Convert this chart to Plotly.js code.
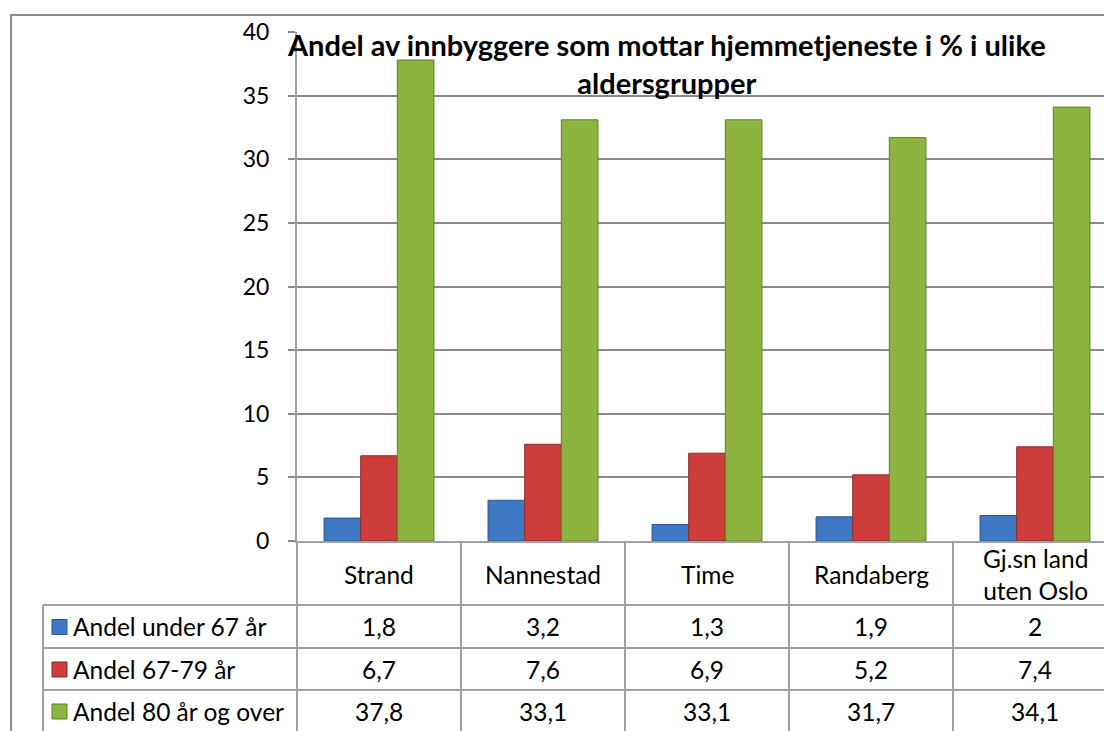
<!DOCTYPE html>
<html>
<head>
<meta charset="utf-8">
<script src="https://cdn.plot.ly/plotly-3.0.1.min.js"></script>
<style>
  body { margin: 0; overflow: hidden; background: #fff; }
  #chart { width: 1130px; height: 745px; }
</style>
</head>
<body>
<div id="chart"></div>
<script>
// data
const categories = ['Strand', 'Nannestad', 'Time', 'Randaberg', 'Gj.sn land<br>uten Oslo'];
const seriesNames = ['Andel under 67 år', 'Andel 67-79 år', 'Andel 80 år og over'];
const under67 = [1.8, 3.2, 1.3, 1.9, 2];
const age67to79 = [6.7, 7.6, 6.9, 5.2, 7.4];
const over80 = [37.8, 33.1, 33.1, 31.7, 34.1];
const tableLabels = [
    ['1,8', '3,2', '1,3', '1,9', '2'],
    ['6,7', '7,6', '6,9', '5,2', '7,4'],
    ['37,8', '33,1', '33,1', '31,7', '34,1']
];

const colors = ['#3f78c4', '#cc3d3b', '#8cb43e'];
const edges = ['#2a5590', '#8e2a28', '#5f7f28'];
const fontFam = 'Lato, "Open Sans", sans-serif';
const gridCol = '#8a8a8a';
const tableCol = '#a0a0a0';
const txtSize = 24.5;

// pixel helpers (plot area 297..1117 x, 32..541 y)
const W = 1130, H = 745;
const L = 297, R = 1117, T = 32, B = 541;
const px = v => (v - L) / (R - L);
const py = v => (B - v) / (B - T);

const xIdx = categories.map((c, i) => i);
const values = [under67, age67to79, over80];

const traces = values.map((vals, s) => ({
    type: 'bar',
    x: xIdx,
    y: vals,
    name: seriesNames[s],
    marker: { color: colors[s], line: { color: edges[s], width: 1 } },
    hoverinfo: 'y'
}));

const shapes = [];
const annotations = [];

// outer chart border
shapes.push({ type: 'rect', xref: 'paper', yref: 'paper',
    x0: px(11), x1: px(1200), y0: py(15), y1: py(800),
    line: { color: '#8a8a8a', width: 2 }, layer: 'below' });

// table grid
const rowLines = [605, 648, 690];
rowLines.forEach(y => shapes.push({ type: 'line', xref: 'paper', yref: 'paper',
    x0: px(43), x1: 1, y0: py(y), y1: py(y), line: { color: tableCol, width: 2 } }));
shapes.push({ type: 'line', xref: 'paper', yref: 'paper',
    x0: px(43), x1: px(43), y0: py(605), y1: py(800), line: { color: tableCol, width: 2 } });
shapes.push({ type: 'line', xref: 'paper', yref: 'paper',
    x0: 0, x1: 0, y0: py(541), y1: py(800), line: { color: tableCol, width: 2 } });
for (let i = 1; i < categories.length; i++) {
    shapes.push({ type: 'line', xref: 'paper', yref: 'paper',
        x0: i / categories.length, x1: i / categories.length, y0: 0, y1: py(800),
        line: { color: tableCol, width: 2 } });
}

// category header labels
categories.forEach((c, i) => annotations.push({
    xref: 'paper', yref: 'paper', x: (i + 0.5) / categories.length, y: py(574),
    text: c, showarrow: false, xanchor: 'center', yanchor: 'middle',
    font: { family: fontFam, size: txtSize, color: '#000' }
}));

// table rows
const rowCenters = [626.5, 669, 711];
seriesNames.forEach((name, s) => {
    const cy = rowCenters[s];
    shapes.push({ type: 'rect', xref: 'paper', yref: 'paper',
        x0: px(52), x1: px(67), y0: py(cy - 7), y1: py(cy + 8),
        fillcolor: colors[s], line: { color: edges[s], width: 1 } });
    annotations.push({ xref: 'paper', yref: 'paper', x: px(71), y: py(cy),
        text: name, showarrow: false, xanchor: 'left', yanchor: 'middle',
        font: { family: fontFam, size: txtSize, color: '#000' } });
    tableLabels[s].forEach((t, i) => annotations.push({
        xref: 'paper', yref: 'paper', x: (i + 0.5) / categories.length, y: py(cy),
        text: t, showarrow: false, xanchor: 'center', yanchor: 'middle',
        font: { family: fontFam, size: txtSize, color: '#000' }
    }));
});

// chart title
annotations.push({ xref: 'paper', yref: 'paper', x: px(666), y: py(63),
    text: '<b>Andel av innbyggere som mottar hjemmetjeneste i % i ulike<br>aldersgrupper</b>',
    showarrow: false, xanchor: 'center', yanchor: 'middle',
    font: { family: fontFam, size: 29, color: '#000' } });

const layout = {
    width: W,
    height: H,
    margin: { l: L, r: W - R, t: T, b: H - B },
    paper_bgcolor: '#fff',
    plot_bgcolor: '#fff',
    showlegend: false,
    barmode: 'group',
    bargap: 0.33,
    bargroupgap: 0,
    xaxis: {
        range: [-0.5, categories.length - 0.5],
        showticklabels: false,
        showgrid: false,
        zeroline: false,
        showline: true,
        linecolor: tableCol,
        linewidth: 2,
        ticks: ''
    },
    yaxis: {
        range: [0, 40],
        dtick: 5,
        showgrid: true,
        gridcolor: gridCol,
        gridwidth: 2,
        zeroline: false,
        showline: true,
        linecolor: tableCol,
        linewidth: 2,
        ticks: 'outside',
        ticklen: 7,
        tickcolor: gridCol,
        tickwidth: 2,
        ticklabelstandoff: 14,
        tickfont: { family: fontFam, size: 23, color: '#000' }
    },
    shapes: shapes,
    annotations: annotations
};

Plotly.newPlot('chart', traces, layout, { displayModeBar: false, staticPlot: true });
</script>
</body>
</html>
